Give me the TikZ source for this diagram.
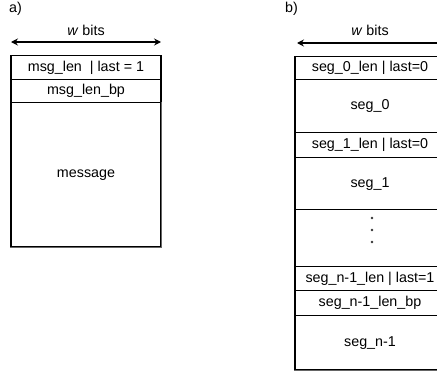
\documentclass[tikz,border=0pt]{standalone}
\usepackage{fontspec}
\setmainfont{Liberation Sans}
\usetikzlibrary{arrows.meta}
\begin{document}
\begin{tikzpicture}[x=1pt,y=-1pt,
  txt/.style={font=\fontsize{14.3}{17}\selectfont, inner sep=0pt},
  field/.style={draw=black, line width=1.3pt, minimum width=150pt, inner sep=0pt,
    anchor=north, font=\fontsize{14.3}{17}\selectfont},
  widtharrow/.style={line width=1.6pt, {Stealth[length=7pt,width=7pt,inset=2.5pt]}-{Stealth[length=7pt,width=7pt,inset=2.5pt]}},
  edge/.style={draw=black!60, line width=1.4pt},
  dot/.style={circle, fill=black!80, inner sep=0pt, minimum size=2.6pt}]
\useasboundingbox (0,0) rectangle (437,372);
\clip (0,0) rectangle (437,372);
% ---- a) ----
\node[txt, anchor=west] (la) at (9,9) {a)};
\node[txt] (wa) at (86,30) {\textit{w} bits};
\coordinate (aL) at (11,42);
\coordinate (aR) at (161,42);
\draw[widtharrow] (aL) -- (aR);
\node[field, minimum height=23.5pt] (a1) at (86,55) {msg\_len \ | last = 1};
\node[field, minimum height=23.5pt] (a2) at (86,78.5) {msg\_len\_bp};
\node[field, minimum height=144pt] (a3) at (86,102) {message};
\draw[edge] (a3.north east) -- (a3.south east) -- (a3.south west);
% ---- b) ----
\node[txt, anchor=west] (lb) at (285,9) {b)};
\node[txt] (wb) at (370,30) {\textit{w} bits};
\coordinate (bL) at (297,43);
\coordinate (bR) at (445,43);
\draw[widtharrow] (bL) -- (bR);
\node[field, minimum height=23pt] (b1) at (370,56) {seg\_0\_len | last=0};
\node[field, minimum height=53pt] (b2) at (370,79) {seg\_0};
\node[field, minimum height=25pt] (b3) at (370,132) {seg\_1\_len | last=0};
\node[field, minimum height=52pt] (b4) at (370,157) {seg\_1};
\node[field, minimum height=57pt] (b5) at (370,209) {};
\node[field, minimum height=24pt] (b6) at (370,266) {seg\_n-1\_len | last=1};
\node[field, minimum height=25pt] (b7) at (370,290) {seg\_n-1\_len\_bp};
\node[field, minimum height=54pt] (b8) at (370,315) {seg\_n-1};
\draw[edge] (b8.south east) -- (b8.south west);
\node[dot] (d1) at (372,218) {};
\node[dot] (d2) at (372,230) {};
\node[dot] (d3) at (372,242) {};
\end{tikzpicture}
\end{document}
